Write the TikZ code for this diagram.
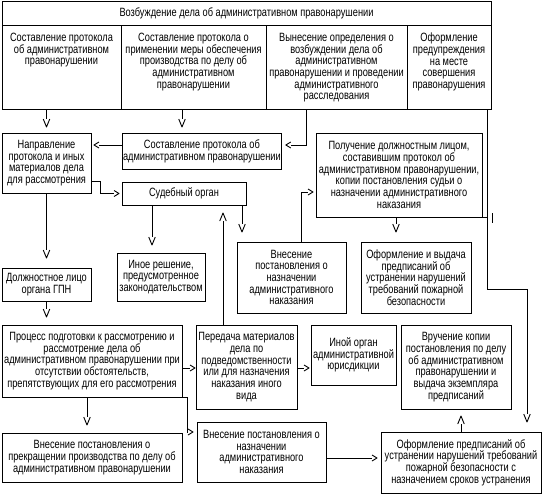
\documentclass[tikz,border=0pt]{standalone}
\usepackage{fontspec}
\setmainfont{Liberation Sans}[FakeStretch=0.77]
\usetikzlibrary{arrows.meta}
\pgfdeclarearrow{
  name=OpenV,
  parameters={\the\pgfarrowlength,\the\pgfarrowwidth},
  setup code={
    \pgfarrowssettipend{0pt}
    \pgfarrowssetlineend{-\pgfarrowlength}
    \pgfarrowshullpoint{0pt}{0pt}
    \pgfarrowsupperhullpoint{-\pgfarrowlength}{.5\pgfarrowwidth}
    \pgfarrowssavethe\pgfarrowlength
    \pgfarrowssavethe\pgfarrowwidth
  },
  drawing code={
    \pgfsetdash{}{0pt}
    \pgfsetroundjoin
    \pgfpathmoveto{\pgfqpoint{-\pgfarrowlength}{.5\pgfarrowwidth}}
    \pgfpathlineto{\pgfpointorigin}
    \pgfpathlineto{\pgfqpoint{-\pgfarrowlength}{-.5\pgfarrowwidth}}
    \pgfusepathqstroke
  },
  defaults={length=8pt,width=6pt}
}
\tikzset{
  fnt/.style={font=\fontsize{12}{11.7}\selectfont},
  bx/.style={draw, line width=0.9pt, align=center, inner sep=1pt, outer sep=0pt, fnt, anchor=north west},
  txt/.style={align=center, inner sep=0pt, fnt},
  ln/.style={line width=0.9pt},
  av/.style={ln, -{OpenV[length=8pt,width=6.5pt]}},
  ah/.style={ln, -{OpenV[length=5pt,width=6pt]}},
}
\newcommand\mybox[7][]{\node[bx,minimum width={#5-#3},minimum height={#6-#4},#1] (#2) at (#3,#4) {#7};}
\begin{document}
\begin{tikzpicture}[x=1pt,y=-1pt]
\useasboundingbox (0,0) rectangle (544,496);
% top block
\mybox[text depth=1pt]{title}{2}{1}{491}{25}{Возбуждение дела об административном правонарушении}
\mybox{b1}{2}{25}{121}{109}{}
\mybox{b2}{121}{25}{266}{109}{}
\mybox{b3}{266}{25}{407}{109}{}
\mybox{b4}{407}{25}{491}{109}{}
\node[txt,anchor=north] (t1) at ([yshift=-8pt]b1.north) {Составление протокола\\об административном\\правонарушении};
\node[txt,anchor=north] (t2) at ([yshift=-8pt]b2.north) {Составление протокола о\\применении меры обеспечения\\производства по делу об\\административном\\правонарушении};
\node[txt,anchor=north] (t3) at ([yshift=-8pt]b3.north) {Вынесение определения о\\возбуждении дела об\\административном\\правонарушении и проведении\\административного\\расследования};
\node[txt,anchor=north] (t4) at ([yshift=-8pt]b4.north) {Оформление\\предупреждения\\на месте\\совершения\\правонарушения};
% second level
\mybox{napr}{2}{133}{91}{193}{Направление\\протокола и иных\\материалов дела\\для рассмотрения}
\mybox{prot2}{122}{133}{280}{169}{Составление протокола об\\административном правонарушении}
\mybox{sud}{122}{182}{246}{205}{Судебный орган}
\mybox{polu}{316}{133}{482}{217}{Получение должностным лицом,\\составившим протокол об\\административном правонарушении,\\копии постановления судьи о\\назначении административного\\наказания}
\mybox{vnaz1}{237}{242}{346}{313}{Внесение\\постановления о\\назначении\\административного\\наказания}
\mybox{oform1}{361}{242}{471}{313}{Оформление и выдача\\предписаний об\\устранении нарушений\\требований пожарной\\безопасности}
\mybox{inoe}{117}{253}{205}{301}{Иное решение,\\предусмотренное\\законодательством}
\mybox{dolzh}{2}{268}{91}{301}{Должностное лицо\\органа ГПН}
\mybox{proc}{2}{325}{182}{397}{Процесс подготовки к рассмотрению и\\рассмотрение дела об\\административном правонарушении при\\отсутствии обстоятельств,\\препятствующих для его рассмотрения}
\mybox{pered}{196}{325}{297}{409}{Передача материалов\\дела по\\подведомственности\\или для назначения\\наказания иного\\вида}
\mybox{inorg}{311}{325}{396}{385}{Иной орган\\административной\\юрисдикции}
\mybox{vruch}{401}{325}{511}{409}{Вручение копии\\постановления по делу\\об административном\\правонарушении и\\выдача экземпляра\\предписаний}
\mybox{vprek}{2}{433}{182}{482}{Внесение постановления о\\прекращении производства по делу об\\административном правонарушении}
\mybox{vnaz2}{197}{422}{326}{482}{Внесение постановления о\\назначении\\административного\\наказания}
\mybox{oform2}{381}{432}{541}{493}{Оформление предписаний об\\устранении нарушений требований\\пожарной безопасности с\\назначением сроков устранения}
% connectors
\draw[av,shorten >=6pt] (napr.north |- b1.south) -- (napr.north);
\draw[av,shorten >=6pt] ([xshift=-11.5pt]b2.south) -- ([xshift=-11.5pt]b2.south |- prot2.north);
\draw[ah,shorten >=4pt] ([xshift=-30.5pt]b3.south) |- ([yshift=6pt]prot2.east);
\draw[ah,shorten >=3pt] ([yshift=6pt]prot2.west) -- ([yshift=6pt]prot2.west -| napr.east);
\draw[ah,shorten >=3pt] ([yshift=-18pt]napr.east) -- ++(9,0) |- (sud.west);
\draw[av,shorten >=10pt] (napr.south) -- (dolzh.north);
\draw[av,shorten >=8pt] (dolzh.south) -- (proc.north -| dolzh.south);
\draw[av,shorten >=8pt] ([xshift=-9pt]inoe.north |- sud.south) -- ([xshift=-9pt]inoe.north);
\draw[av,shorten >=10pt] ([xshift=-4pt]sud.south east) -- ([xshift=-4pt]sud.south east |- vnaz1.north);
\draw[av,shorten >=8pt] ([xshift=-23.5pt]pered.north) -- ([xshift=-23.5pt]pered.north |- sud.south);
\draw[ah,shorten >=3pt] ([xshift=9.5pt]vnaz1.north) |- ([yshift=-17pt]polu.west);
\draw[av,shorten >=10pt] ([xshift=-3pt]polu.south) -- ([xshift=-3pt]polu.south |- oform1.north);
\draw[av,shorten >=10pt] ([xshift=38pt]b4.south) -- ++(0,180) -| ([xshift=66pt]oform2.north);
\draw[ah,shorten >=1pt] ([yshift=-7pt]proc.east) -- ([yshift=-7pt]proc.east -| pered.west);
\draw[ah,shorten >=2pt] ([yshift=-1pt]pered.east) -- ([yshift=-1pt]pered.east -| inorg.west);
\draw[av,shorten >=8pt] ([xshift=-5pt]proc.south) -- ([xshift=-5pt]proc.south |- vprek.north);
\draw[ah,shorten >=4pt] (proc.south east) -- ++(5,0) |- ([yshift=20pt]vnaz2.west);
\draw[ah,shorten >=4pt] ([yshift=-6pt]vnaz2.east) -- ([yshift=-6pt]vnaz2.east -| oform2.west);
\draw[av,shorten >=7pt] (oform2.north) -- (oform2.north |- vruch.south);
% details
\draw[ln] (polu.south east) -- ++(5,0);
\draw[ln] ([xshift=10pt,yshift=4pt]polu.south east) -- ++(0,10);
\end{tikzpicture}
\end{document}
